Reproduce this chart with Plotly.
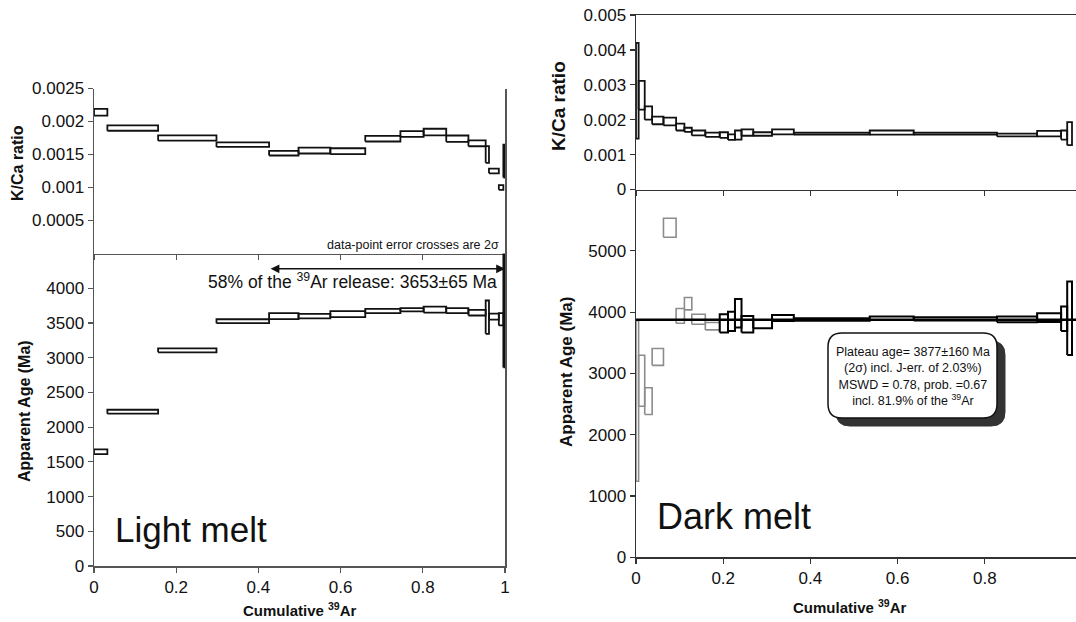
import plotly.graph_objects as go

W, H = 1076, 622

# ---------------- data: Light melt ----------------
light_edges = [0, 0.0325, 0.156, 0.298, 0.426, 0.4976, 0.575, 0.660, 0.7455, 0.802,
               0.857, 0.911, 0.953, 0.961, 0.985, 0.996, 1.0]
light_kca = [0.00214, 0.00190, 0.00175, 0.00165, 0.00152, 0.00156, 0.00155, 0.00174,
             0.00181, 0.00184, 0.00174, 0.00167, 0.00150, 0.00125, 0.00100, 0.00140]
light_kca_err = [0.00005, 0.00004, 0.00004, 0.000035, 0.000035, 0.000045, 0.000045, 0.000043,
                 0.000043, 0.00005, 0.000048, 0.000045, 0.000126, 0.000035, 0.000035, 0.00025]
light_age = [1645, 2222, 3105, 3525, 3597, 3598, 3626, 3672, 3690, 3693, 3676, 3648,
             3583, 3590, 3552, 3700]
light_age_err = [35, 28, 28, 28, 43, 33, 43, 32, 22, 43, 36, 41, 240, 43, 88, 840]
light_plateau = [0.426, 1.0]

# ---------------- data: Dark melt ----------------
dark_edges = [0, 0.006, 0.02, 0.037, 0.063, 0.092, 0.111, 0.128, 0.159, 0.192, 0.211,
              0.227, 0.242, 0.269, 0.312, 0.362, 0.536, 0.637, 0.828, 0.920, 0.975, 0.989, 1.0]
dark_kca = [0.00283, 0.00270, 0.00219, 0.00198, 0.00195, 0.00179, 0.00171, 0.00162, 0.00157,
            0.00156, 0.00150, 0.00156, 0.00163, 0.00159, 0.00165, 0.00160, 0.00163, 0.00160,
            0.00156, 0.00160, 0.00156, 0.00160]
dark_kca_err = [0.00137, 0.00041, 0.00019, 0.00011, 0.00011, 0.00010, 0.00006, 0.00007, 0.00006,
                0.00008, 0.00008, 0.00013, 0.00009, 0.00005, 0.00007, 0.00003, 0.00006, 0.00003,
                0.00004, 0.00008, 0.00013, 0.00033]
dark_age = [2550, 2880, 2548, 3268, 5377, 3938, 4138, 3884, 3770, 3816, 3848, 3980, 3802,
            3804, 3905, 3880, 3900, 3890, 3880, 3910, 3892, 3900]
dark_age_err = [1310, 415, 218, 137, 155, 120, 101, 82, 60, 150, 156, 232, 136, 68, 49,
                20, 30, 25, 47, 72, 200, 600]
dark_in_plateau = [False] * 9 + [True] * 13
dark_plateau_age = 3877

FONT = "Liberation Sans, Arial, sans-serif"


def boxes(edges, vals, errs, idx):
    xs, ys = [], []
    for i in idx:
        x0, x1 = edges[i], edges[i + 1]
        lo, hi = vals[i] - errs[i], vals[i] + errs[i]
        xs += [x0, x1, x1, x0, x0, None]
        ys += [lo, lo, hi, hi, lo, None]
    return xs, ys


def box_trace(edges, vals, errs, idx, xa, ya, color, width):
    xs, ys = boxes(edges, vals, errs, idx)
    return go.Scatter(x=xs, y=ys, xaxis=xa, yaxis=ya, mode="lines",
                      line=dict(color=color, width=width), hoverinfo="skip",
                      showlegend=False)


fig = go.Figure()
n_l = len(light_kca)
n_d = len(dark_kca)
fig.add_trace(box_trace(light_edges, light_kca, light_kca_err, range(n_l), "x", "y", "#111", 1.8))
fig.add_trace(box_trace(light_edges, light_age, light_age_err, range(n_l), "x2", "y2", "#111", 1.8))
fig.add_trace(box_trace(dark_edges, dark_kca, dark_kca_err, range(n_d), "x3", "y3", "#111", 1.8))

excl = [i for i in range(n_d) if not dark_in_plateau[i]]
incl = [i for i in range(n_d) if dark_in_plateau[i]]
fig.add_trace(box_trace(dark_edges, dark_age, dark_age_err, excl, "x4", "y4", "#8c8c8c", 1.6))
xr_right = (W - 636) / 436.0
fig.add_trace(go.Scatter(x=[0, xr_right], y=[dark_plateau_age, dark_plateau_age], xaxis="x4",
                         yaxis="y4", mode="lines", line=dict(color="#000", width=2.5),
                         hoverinfo="skip", showlegend=False))
fig.add_trace(box_trace(dark_edges, dark_age, dark_age_err, incl, "x4", "y4", "#000", 2.0))


def px2x(p):
    return p / W


def px2y(p):
    return 1 - p / H


axl = dict(showline=True, linecolor="#555", linewidth=1.5, ticks="outside", ticklen=5,
           tickcolor="#555", tickwidth=1.2, showgrid=False, zeroline=False, automargin=False,
           tickfont=dict(size=17, color="#111", family=FONT))
axr = dict(axl, linecolor="#333", tickcolor="#333")

left_dom = [px2x(94), px2x(505)]
right_dom = [px2x(636), 1.0]

fig.update_layout(
    template="none",
    width=W, height=H, margin=dict(l=0, r=0, t=0, b=0, pad=0),
    paper_bgcolor="white", plot_bgcolor="white", showlegend=False,
    font=dict(family=FONT, color="#111"),
    xaxis=dict(axl, domain=left_dom, range=[0, 1], anchor="y",
               tickvals=[0, 0.2, 0.4, 0.6, 0.8, 1], showticklabels=False),
    yaxis=dict(axl, domain=[px2y(253.5), px2y(88.5)], range=[0, 0.0025], anchor="x",
               mirror=True,
               tickvals=[0.0005, 0.001, 0.0015, 0.002, 0.0025],
               ticktext=["0.0005", "0.001", "0.0015", "0.002", "0.0025"]),
    xaxis2=dict(axl, domain=left_dom, range=[0, 1], anchor="y2",
                tickvals=[0, 0.2, 0.4, 0.6, 0.8, 1],
                ticktext=["0", "0.2", "0.4", "0.6", "0.8", "1"]),
    yaxis2=dict(axl, domain=[px2y(566), px2y(253.5)], range=[0, 4500], anchor="x2",
                mirror=True, tickvals=list(range(0, 4001, 500)),
                ticktext=[str(v) for v in range(0, 4001, 500)]),
    xaxis3=dict(axr, domain=right_dom, range=[0, xr_right], anchor="y3", mirror=True,
                tickvals=[0, 0.2, 0.4, 0.6, 0.8], showticklabels=False),
    yaxis3=dict(axr, domain=[px2y(189.5), px2y(15)], range=[0, 0.005], anchor="x3",
                tickvals=[0, 0.001, 0.002, 0.003, 0.004, 0.005],
                ticktext=["0", "0.001", "0.002", "0.003", "0.004", "0.005"]),
    xaxis4=dict(axr, domain=right_dom, range=[0, xr_right], anchor="y4",
                tickvals=[0, 0.2, 0.4, 0.6, 0.8],
                ticktext=["0", "0.2", "0.4", "0.6", "0.8"]),
    yaxis4=dict(axr, domain=[px2y(557.3), px2y(189.5)], range=[0, 6000], anchor="x4",
                tickvals=list(range(0, 5001, 1000)),
                ticktext=[str(v) for v in range(0, 5001, 1000)]),
)

ann = []


def text(x, y, s, size, bold=False, angle=0, xanchor="center", yanchor="middle", align="center"):
    if bold:
        s = "<b>" + s + "</b>"
    ann.append(dict(x=px2x(x), y=px2y(y), xref="paper", yref="paper", text=s, showarrow=False,
                    textangle=angle, xanchor=xanchor, yanchor=yanchor, align=align,
                    font=dict(size=size, family=FONT, color="#111")))


# axis titles
text(18, 163, "K/Ca ratio", 16, bold=True, angle=-90)
text(25, 411, "Apparent Age (Ma)", 16, bold=True, angle=-90)
text(559, 106, "K/Ca ratio", 19, bold=True, angle=-90)
text(566, 372, "Apparent Age (Ma)", 17, bold=True, angle=-90)
text(300, 609, "Cumulative <sup>39</sup>Ar", 15, bold=True)
text(850, 606, "Cumulative <sup>39</sup>Ar", 15, bold=True)

# left notes
text(501, 245, "data-point error crosses are 2σ", 12.5, xanchor="right")
text(499, 281, "58% of the <sup>39</sup>Ar release: 3653±65 Ma", 17.5, xanchor="right")
text(113, 529, "Light melt", 35, xanchor="left")
text(655, 516, "Dark melt", 36, xanchor="left")

# plateau double arrow (left)
ann.append(dict(x=light_plateau[1], y=4280, ax=light_plateau[0], ay=4280,
                xref="x2", yref="y2", axref="x2", ayref="y2", text="", showarrow=True,
                arrowhead=2, arrowside="end+start", arrowsize=1.1, arrowwidth=1.6,
                arrowcolor="#111", startarrowhead=2, startarrowsize=1.1))

# plateau info box (right)
text(912.5, 376, "Plateau age= 3877±160 Ma<br>(2σ) incl. J-err. of 2.03%)<br>"
     "MSWD = 0.78, prob. =0.67<br>incl. 81.9% of the <sup>39</sup>Ar", 12.5)

fig.update_layout(annotations=ann)


def rrect(x0, y0, x1, y1, r):
    P = lambda x, y: f"{px2x(x):.5f},{px2y(y):.5f}"
    return (f"M {P(x0 + r, y0)} L {P(x1 - r, y0)} Q {P(x1, y0)} {P(x1, y0 + r)} "
            f"L {P(x1, y1 - r)} Q {P(x1, y1)} {P(x1 - r, y1)} L {P(x0 + r, y1)} "
            f"Q {P(x0, y1)} {P(x0, y1 - r)} L {P(x0, y0 + r)} Q {P(x0, y0)} {P(x0 + r, y0)} Z")


fig.add_shape(type="path", xref="paper", yref="paper", path=rrect(836, 341, 1005, 426, 14),
              fillcolor="#333", line=dict(color="#333", width=1), layer="below")
fig.add_shape(type="path", xref="paper", yref="paper", path=rrect(828, 333, 997, 418, 14),
              fillcolor="white", line=dict(color="#111", width=1.5), layer="below")

fig.write_html("out.html", config={"displayModeBar": False, "staticPlot": True},
               post_script="document.body.style.margin='0px';document.body.style.overflow='hidden';")
